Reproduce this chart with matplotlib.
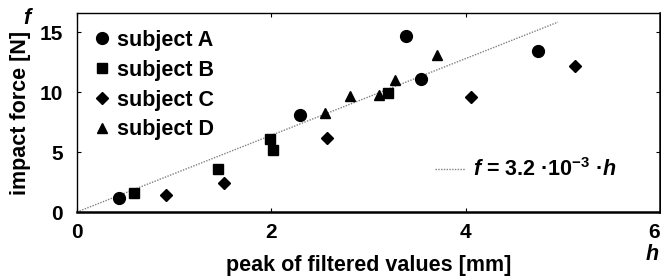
import matplotlib
matplotlib.use("Agg")
import matplotlib.pyplot as plt

plt.rcParams['font.family'] = ['Liberation Sans', 'DejaVu Sans']
plt.rcParams['font.weight'] = 'bold'
plt.rcParams['mathtext.fontset'] = 'custom'
plt.rcParams['mathtext.rm'] = 'Liberation Sans:bold'
plt.rcParams['mathtext.it'] = 'Liberation Sans:italic:bold'
plt.rcParams['mathtext.bf'] = 'Liberation Sans:bold'

# data
a_x = [0.43, 2.30, 3.39, 3.54, 4.74]
a_y = [1.15, 8.1, 14.7, 11.1, 13.4]
b_x = [0.59, 1.45, 1.99, 2.02, 3.20]
b_y = [1.6, 3.6, 6.1, 5.2, 9.9]
c_x = [0.92, 1.51, 2.57, 4.05, 5.13]
c_y = [1.4, 2.4, 6.2, 9.6, 12.2]
d_x = [2.55, 2.81, 3.11, 3.27, 3.70]
d_y = [8.3, 9.7, 9.8, 11.0, 13.1]
fit_x = [0.0, 4.95]
fit_slope = 3.2
fit_y = [fit_slope * v for v in fit_x]

xticks = [0, 2, 4, 6]
yticks = [0, 5, 10, 15]

FS = 15.5

fig = plt.figure(figsize=(6.61, 2.76), dpi=100)
ax = fig.add_axes([77/661, 64/276, 583/661, 199/276])

line, = ax.plot(fit_x, fit_y, color='#808080', linestyle=(0, (1, 1)), linewidth=1.0, zorder=1)
ha, = ax.plot(a_x, a_y, 'o', color='black', markersize=8.5, linestyle='none', label='subject A')
hb, = ax.plot(b_x, b_y, 's', color='black', markersize=7, linestyle='none', label='subject B')
hc, = ax.plot(c_x, c_y, 'D', color='black', markersize=6.5, linestyle='none', label='subject C')
hd, = ax.plot(d_x, d_y, '^', color='black', markersize=7.5, linestyle='none', label='subject D')

ax.set_xlim(0, 6)
ax.set_ylim(0, 16.6)
ax.set_xticks(xticks)
ax.set_yticks(yticks)
ax.tick_params(direction='in', length=3, width=0.8, top=True, right=True, labelsize=15)
ax.tick_params(axis='x', pad=8)
ax.tick_params(axis='y', pad=10)
for lab in ax.get_xticklabels() + ax.get_yticklabels():
    lab.set_fontweight('bold')
ax.get_xticklabels()[-1].set_horizontalalignment('right')
for s in ['left', 'top']:
    ax.spines[s].set_linewidth(1.0)
for s in ['bottom', 'right']:
    ax.spines[s].set_linewidth(1.8)

ax.set_xlabel('peak of filtered values [mm]', fontsize=FS, fontweight='bold', labelpad=9)
ax.set_ylabel('impact force [N]', fontsize=FS, fontweight='bold', labelpad=6)

leg1 = ax.legend(handles=[ha, hb, hc, hd], loc='upper left', bbox_to_anchor=(0.031, 0.915),
                 frameon=False, markerscale=1.0, handlelength=0.6, handletextpad=0.4,
                 labelspacing=0.41, borderaxespad=0, borderpad=0,
                 prop={'weight': 'bold', 'size': FS})
ax.add_artist(leg1)
leg2 = ax.legend(handles=[line],
                 labels=['$f$ = 3.2 \u00b710$^{\\mathbf{-3}}$ \u00b7$h$'],
                 loc='center left', bbox_to_anchor=(0.614, 0.211), frameon=False,
                 handlelength=1.4, handletextpad=0.35, borderpad=0, borderaxespad=0,
                 prop={'weight': 'bold', 'size': FS})

fig.text(27/661, 1 - 19/276, 'f', fontsize=FS, fontstyle='italic', fontweight='bold',
         ha='center', va='center')
fig.text(652/661, 1 - 254/276, 'h', fontsize=FS, fontstyle='italic', fontweight='bold',
         ha='center', va='center')

fig.savefig('out.png', dpi=100)
